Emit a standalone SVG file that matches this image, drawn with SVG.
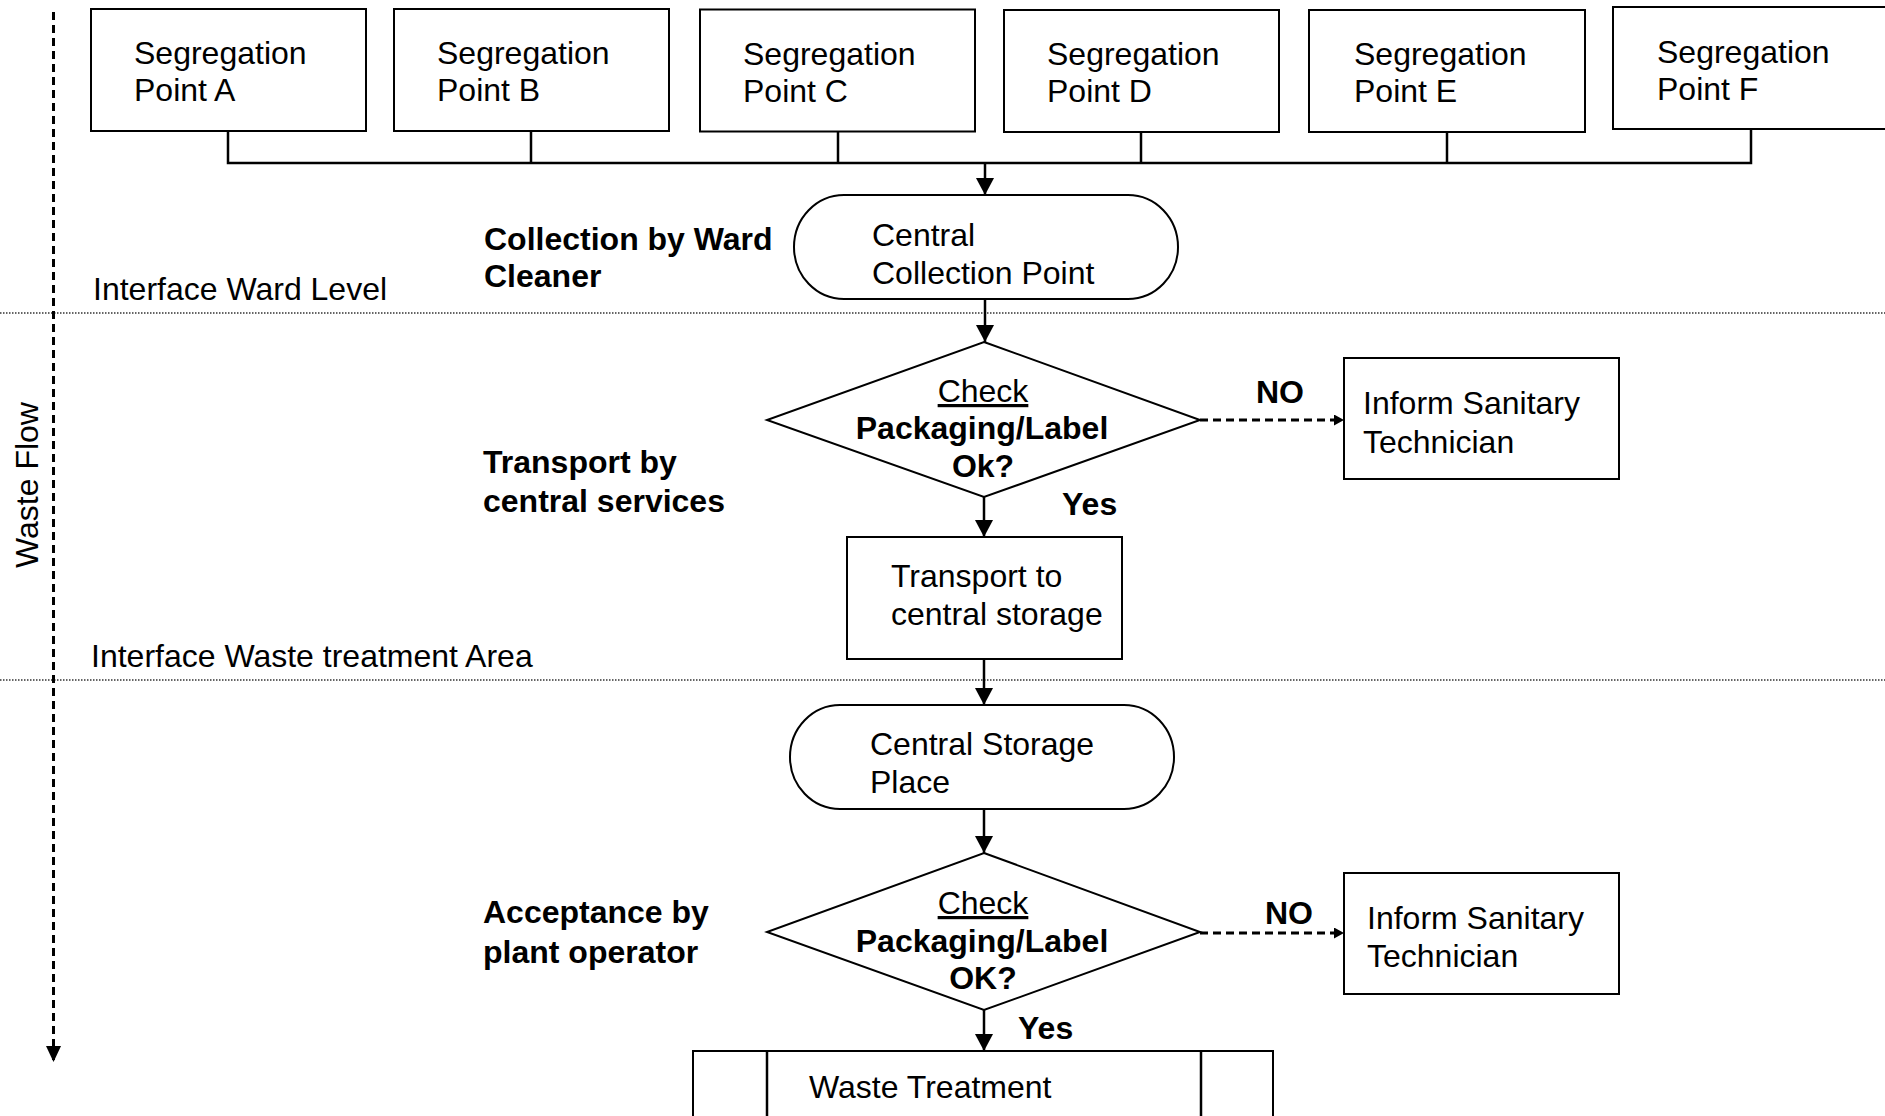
<svg xmlns="http://www.w3.org/2000/svg" width="1885" height="1116" viewBox="0 0 1885 1116">
<style>
text{font-family:"Liberation Sans",Arial,sans-serif;font-size:32px;fill:#000}
.b{font-weight:bold}
.m{text-anchor:middle}
.shape{fill:#fff;stroke:#000;stroke-width:2}
.ln{fill:none;stroke:#000;stroke-width:2.5}
.dash{fill:none;stroke:#000;stroke-width:3;stroke-dasharray:8 5}
.dot{fill:none;stroke:#333;stroke-width:1.5;stroke-dasharray:1.5 1.5}
</style>
<defs>
<marker id="arr" markerUnits="userSpaceOnUse" markerWidth="17" markerHeight="18" viewBox="0 0 17 18" refX="17" refY="9" orient="auto"><path d="M0,0 L17,9 L0,18 z" fill="#000"/></marker>
<marker id="arrS" markerUnits="userSpaceOnUse" markerWidth="10" markerHeight="11" viewBox="0 0 10 11" refX="10" refY="5.5" orient="auto"><path d="M0,0 L10,5.5 L0,11 z" fill="#000"/></marker>
<marker id="arrF" markerUnits="userSpaceOnUse" markerWidth="16" markerHeight="15" viewBox="0 0 16 15" refX="16" refY="7.5" orient="auto"><path d="M0,0 L16,7.5 L0,15 z" fill="#000"/></marker>
</defs>
<rect width="1885" height="1116" fill="#fff"/>

<g id="lanes">
<line class="dot" x1="0" y1="313" x2="1885" y2="313"/>
<line class="dot" x1="0" y1="680" x2="1885" y2="680"/>
<line class="dash" x1="53.5" y1="12" x2="53.5" y2="1062" stroke-dasharray="10 7" marker-end="url(#arrF)"/>
<text transform="translate(38,485) rotate(-90)" class="m">Waste Flow</text>
<text x="93" y="300">Interface Ward Level</text>
<text x="91" y="667">Interface Waste treatment Area</text>
<text class="b" x="484" y="250">Collection by Ward</text>
<text class="b" x="484" y="287">Cleaner</text>
<text class="b" x="483" y="473">Transport by</text>
<text class="b" x="483" y="512">central services</text>
<text class="b" x="483" y="923">Acceptance by</text>
<text class="b" x="483" y="963">plant operator</text>
</g>

<g id="connectors">
<polyline class="ln" points="228,131 228,163 1751,163 1751,129"/>
<line class="ln" x1="531" y1="131" x2="531" y2="163"/>
<line class="ln" x1="838" y1="131" x2="838" y2="163"/>
<line class="ln" x1="1141" y1="132" x2="1141" y2="163"/>
<line class="ln" x1="1447" y1="132" x2="1447" y2="163"/>
<line class="ln" x1="985" y1="163" x2="985" y2="195" marker-end="url(#arr)"/>
<line class="ln" x1="985" y1="299" x2="985" y2="342" marker-end="url(#arr)"/>
<line class="ln" x1="984" y1="497" x2="984" y2="537" marker-end="url(#arr)"/>
<line class="ln" x1="984" y1="659" x2="984" y2="705" marker-end="url(#arr)"/>
<line class="ln" x1="984" y1="809" x2="984" y2="853" marker-end="url(#arr)"/>
<line class="ln" x1="984" y1="1010" x2="984" y2="1051" marker-end="url(#arr)"/>
<line class="dash" x1="1200" y1="420" x2="1344" y2="420" marker-end="url(#arrS)"/>
<line class="dash" x1="1200" y1="933" x2="1344" y2="933" marker-end="url(#arrS)"/>
<text class="b" x="1256" y="403">NO</text>
<text class="b" x="1062" y="515">Yes</text>
<text class="b" x="1265" y="924">NO</text>
<text class="b" x="1018" y="1039">Yes</text>
</g>

<g id="segA"><rect class="shape" x="91" y="9" width="275" height="122"/><text x="134" y="64">Segregation</text><text x="134" y="101">Point A</text></g>
<g id="segB"><rect class="shape" x="394" y="9" width="275" height="122"/><text x="437" y="64">Segregation</text><text x="437" y="101">Point B</text></g>
<g id="segC"><rect class="shape" x="700" y="9.5" width="275" height="122"/><text x="743" y="65">Segregation</text><text x="743" y="102">Point C</text></g>
<g id="segD"><rect class="shape" x="1004" y="10" width="275" height="122"/><text x="1047" y="65">Segregation</text><text x="1047" y="102">Point D</text></g>
<g id="segE"><rect class="shape" x="1309" y="10" width="276" height="122"/><text x="1354" y="65">Segregation</text><text x="1354" y="102">Point E</text></g>
<g id="segF"><rect class="shape" x="1613" y="7" width="290" height="122"/><text x="1657" y="63">Segregation</text><text x="1657" y="100">Point F</text></g>

<g id="centralCollection"><rect class="shape" x="794" y="195" width="384" height="104" rx="50" ry="52"/><text x="872" y="246">Central</text><text x="872" y="284">Collection Point</text></g>

<g id="check1"><polygon class="shape" points="984,342 1200,420 984,497 767,420"/><text class="m" x="983" y="402" text-decoration="underline">Check</text><text class="b m" x="982" y="439">Packaging/Label</text><text class="b m" x="983" y="477">Ok?</text></g>

<g id="inform1"><rect class="shape" x="1344" y="358" width="275" height="121"/><text x="1363" y="414">Inform Sanitary</text><text x="1363" y="453">Technician</text></g>

<g id="transport"><rect class="shape" x="847" y="537" width="275" height="122"/><text x="891" y="587">Transport to</text><text x="891" y="625">central storage</text></g>

<g id="centralStorage"><rect class="shape" x="790" y="705" width="384" height="104" rx="50" ry="52"/><text x="870" y="755">Central Storage</text><text x="870" y="793">Place</text></g>

<g id="check2"><polygon class="shape" points="984,853 1200,932 984,1010 767,932"/><text class="m" x="983" y="914" text-decoration="underline">Check</text><text class="b m" x="982" y="952">Packaging/Label</text><text class="b m" x="983" y="989">OK?</text></g>

<g id="inform2"><rect class="shape" x="1344" y="873" width="275" height="121"/><text x="1367" y="929">Inform Sanitary</text><text x="1367" y="967">Technician</text></g>

<g id="wasteTreatment"><rect class="shape" x="693" y="1051" width="580" height="90"/><line class="ln" x1="767" y1="1051" x2="767" y2="1130" stroke-width="2"/><line class="ln" x1="1201" y1="1051" x2="1201" y2="1130" stroke-width="2"/><text x="809" y="1098">Waste Treatment</text></g>
</svg>
